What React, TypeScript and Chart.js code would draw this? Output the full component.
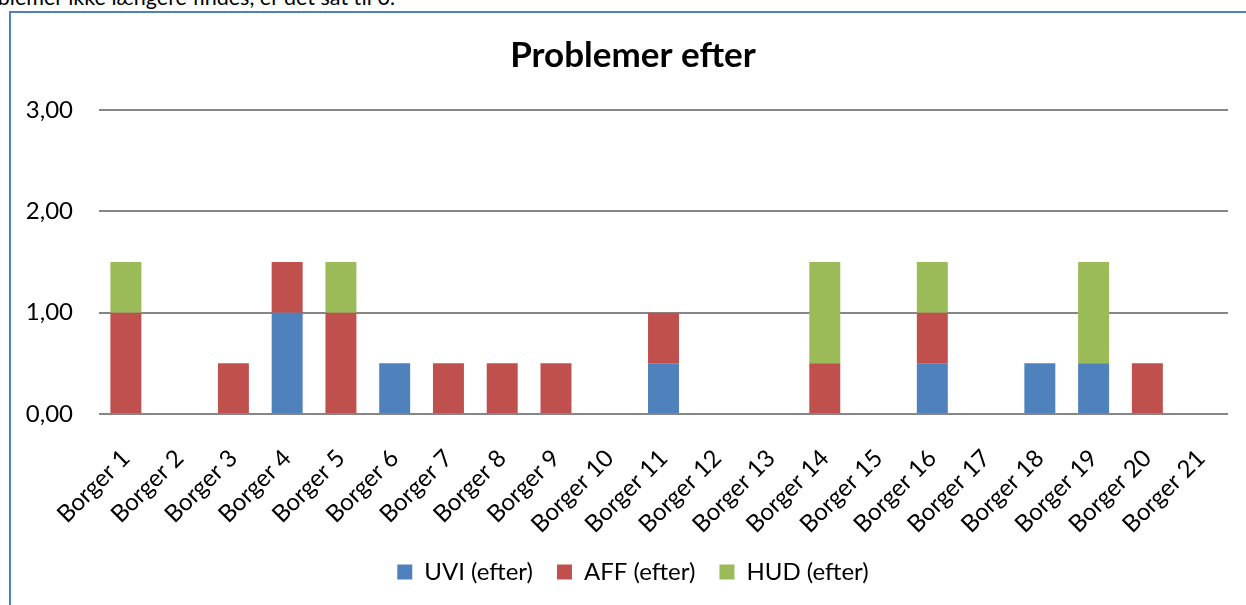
import React, { useEffect, useRef } from "react";
import { Chart, registerables } from "chart.js";

Chart.register(...registerables);

const categories = [
  "Borger 1", "Borger 2", "Borger 3", "Borger 4", "Borger 5", "Borger 6", "Borger 7",
  "Borger 8", "Borger 9", "Borger 10", "Borger 11", "Borger 12", "Borger 13", "Borger 14",
  "Borger 15", "Borger 16", "Borger 17", "Borger 18", "Borger 19", "Borger 20", "Borger 21",
];
const uviValues = [0, 0, 0, 1, 0, 0.5, 0, 0, 0, 0, 0.5, 0, 0, 0, 0, 0.5, 0, 0.5, 0.5, 0, 0];
const affValues = [1, 0, 0.5, 0.5, 1, 0, 0.5, 0.5, 0.5, 0, 0.5, 0, 0, 0.5, 0, 0.5, 0, 0, 0, 0.5, 0];
const hudValues = [0.5, 0, 0, 0, 0.5, 0, 0, 0, 0, 0, 0, 0, 0, 1, 0, 0.5, 0, 0, 1, 0, 0];
const seriesLabels = ["UVI (efter)", "AFF (efter)", "HUD (efter)"];
const yMin = 0;
const yMax = 3;
const yStep = 1;
const titleText = "Problemer efter";
const noteText = "blemer ikke længere findes, er det sat til 0.";

const FONT = "Lato, 'Noto Sans', sans-serif";

export default function App() {
  const canvasRef = useRef<HTMLCanvasElement | null>(null);

  useEffect(() => {
    if (!canvasRef.current) return;
    const chart = new Chart(canvasRef.current, {
      type: "bar",
      data: {
        labels: categories,
        datasets: [
          { label: seriesLabels[0], data: uviValues, backgroundColor: "#4F81BD", borderWidth: 0 },
          { label: seriesLabels[1], data: affValues, backgroundColor: "#C0504D", borderWidth: 0 },
          { label: seriesLabels[2], data: hudValues, backgroundColor: "#9BBB59", borderWidth: 0 },
        ],
      },
      options: {
        animation: false,
        responsive: false,
        maintainAspectRatio: false,
        layout: { padding: { left: 0, right: 0, top: 0, bottom: 11 } },
        datasets: { bar: { categoryPercentage: 1, barPercentage: 0.576 } },
        scales: {
          x: {
            stacked: true,
            grid: { display: false },
            border: { display: false },
            afterFit: (scale: any) => { scale.height = 122; },
            ticks: {
              autoSkip: false,
              maxRotation: 45,
              minRotation: 45,
              color: "#000",
              padding: 22,
              font: { family: FONT, size: 24 },
            },
          },
          y: {
            stacked: true,
            min: yMin,
            max: yMax,
            afterFit: (scale: any) => { scale.width = 88; },
            grid: { color: "#868686", lineWidth: 2, drawTicks: false },
            border: { display: false },
            ticks: {
              stepSize: yStep,
              color: "#000",
              padding: 26,
              font: { family: FONT, size: 24 },
              callback: (v: any) => Number(v).toFixed(2).replace(".", ","),
            },
          },
          y2: {
            type: "linear",
            position: "right",
            display: true,
            grid: { display: false, drawTicks: false },
            border: { display: false },
            ticks: { display: false },
            afterFit: (scale: any) => { scale.width = 27; },
          },
        },
        plugins: {
          title: {
            display: true,
            text: titleText,
            color: "#000",
            font: { family: FONT, size: 35, weight: "bold" },
            padding: { top: 22, bottom: 33 },
          },
          legend: {
            position: "bottom",
            labels: {
              boxWidth: 15,
              boxHeight: 15,
              color: "#000",
              padding: 24,
              font: { family: FONT, size: 24 },
            },
          },
          tooltip: { enabled: false },
        },
      },
    });
    return () => chart.destroy();
  }, []);

  return (
    <div style={{ position: "fixed", inset: 0, overflow: "hidden", background: "#fff", fontFamily: FONT }}>
      <div
        style={{
          position: "absolute",
          right: 851,
          top: -14,
          fontSize: 21.5,
          lineHeight: "22px",
          whiteSpace: "nowrap",
          color: "#000",
        }}
      >
        {noteText}
      </div>
      <div
        style={{
          position: "absolute",
          left: 9,
          top: 11,
          width: 1300,
          height: 700,
          borderLeft: "2px solid #4F81BD",
          borderTop: "2px solid #4F81BD",
        }}
      >
        <canvas ref={canvasRef} width={1244} height={592} style={{ display: "block", width: 1244, height: 592 }} />
      </div>
    </div>
  );
}
